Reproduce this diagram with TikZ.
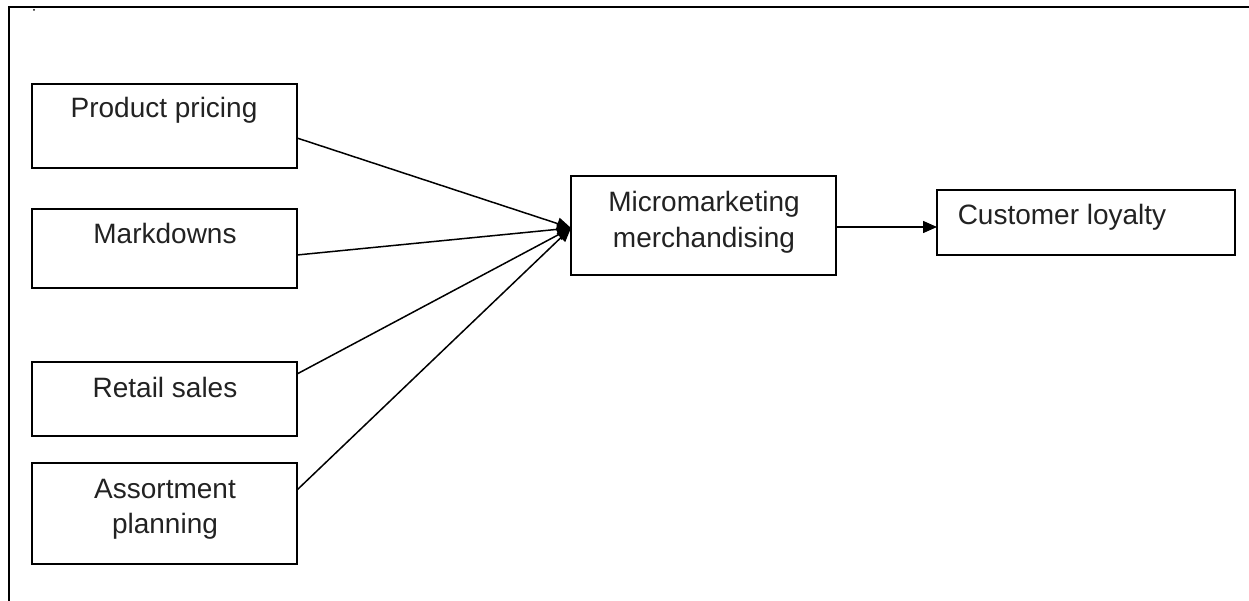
\documentclass[tikz,border=0pt]{standalone}
\usepackage{fontspec}
\setmainfont{Liberation Sans}
\usetikzlibrary{arrows.meta}
\definecolor{txt}{HTML}{222222}
\tikzset{
  box/.style={draw=black, line width=1.6pt, inner sep=0pt, outer sep=0pt, rectangle},
  lbl/.style={anchor=base, inner sep=0pt, text=txt, font=\fontsize{28}{35.5}\selectfont, align=center},
  conn/.style={draw=black, line width=1.5pt, -{Triangle[length=14pt,width=12pt]}},
  frameline/.style={draw=black, line width=2pt}
}
\begin{document}
\begin{tikzpicture}[x=1pt,y=-1pt]
\useasboundingbox (0,0) rectangle (1249,601);
% frame
\coordinate (ftr) at (1249,7);
\coordinate (ftl) at (9,7);
\coordinate (fbl) at (9,601);
\draw[frameline] (ftr) -- (ftl) -- (fbl);
\fill (34,10) circle (1);
% boxes
\node[box, minimum width=265pt, minimum height=84pt] (pp) at (164.5,126) {};
\node[box, minimum width=265pt, minimum height=79pt] (md) at (164.5,248.5) {};
\node[box, minimum width=265pt, minimum height=74pt] (rs) at (164.5,399) {};
\node[box, minimum width=265pt, minimum height=101pt] (ap) at (164.5,513.5) {};
\node[box, minimum width=265pt, minimum height=99pt] (mm) at (703.5,225.5) {};
\node[box, minimum width=298pt, minimum height=65pt] (cl) at (1086,222.5) {};
% labels
\node[lbl] (tpp) at (164,118) {Product pricing};
\node[lbl] (tmd) at (165,244) {Markdowns};
\node[lbl] (trs) at (165,397) {Retail sales};
\node[lbl] (tap) at (165,498) {Assortment};
\node[lbl] (tap2) at (165,533) {planning};
\node[lbl] (tmm) at (704,212) {Micromarketing};
\node[lbl] (tmm2) at (704,248) {merchandising};
\node[lbl] (tcl) at (1062,225) {Customer loyalty};
% connectors
\coordinate (tip) at ([yshift=-2.5pt]mm.west);
\draw[conn] ([yshift=-12pt]pp.east) -- (tip);
\draw[conn] ([yshift=-6.5pt]md.east) -- (tip);
\draw[conn] ([yshift=25pt]rs.east) -- (tip);
\draw[conn] ([yshift=23.5pt]ap.east) -- (tip);
\draw[conn] ([yshift=-1.5pt]mm.east) -- ([yshift=-4.5pt]cl.west);
\end{tikzpicture}
\end{document}
